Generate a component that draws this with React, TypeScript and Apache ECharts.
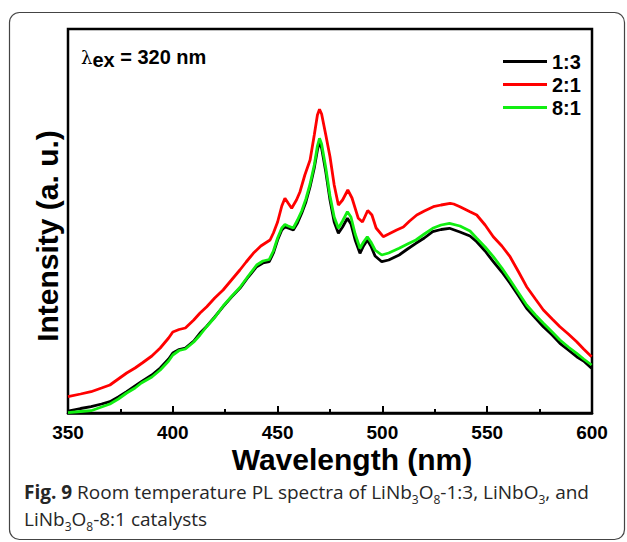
import React, { useEffect, useRef } from "react";
import * as echarts from "echarts";

// Wavelength samples (nm) shared by samples 1:3 and 8:1
const wl = [350,356,361,366,370,374,378,382,385,390,394,398,400,403,406,410,413,416,420,424,428,432,436,440,443,446,448,450,452,453.5,455,457.5,459.5,461.5,463.5,465.5,467.5,469,470,471,473,475,477,479,481,483.3,485,487,489.3,491,492.8,494.5,496.5,499.7,503,508,512,516,520,524,528,532,537,541.8,545,549,552.9,557,560.9,565,568.8,573,576.8,581,584.7,588.7,592.7,596,599.8];
// Intensity (a.u.) of LiNb3O8-1:3
const int13 = [2,4.5,6.3,9,11.3,16,21.3,27,31.3,38,45,54,60,63.5,65,72,80,86.3,96,106.3,116,124.7,136,146.3,150,151.3,160,173,183,186.3,185,183,190,199.7,211,226.3,245,263,271.3,265,241,213,191,179.7,186,194.7,189,173,159.7,167,173,167,157,151.3,153,158,164,169.7,175,181.3,183.5,184.7,181,177,171.3,162,151.3,141,129.7,117,104.7,95,86.3,78,69.7,63,56.3,52,44.7];
// Intensity (a.u.) of LiNb3O8-8:1
const int81 = [0.3,1.5,2.3,6,9,14,20,25,30,36,43,52,58,62.5,64,71,78,86,95.5,107,116.5,125.5,137,148,152,153.5,162,175,185,188.5,187,185,193,202,214,229,248,267,274.7,269,245,217,196,184.7,192,201.3,196,179,164.7,171,176.3,171,163,158,160,164.7,169,173,179,184.7,188,189.7,187,182,174.7,166,156.3,145,133,120,108,98,89.7,81,73,66,59.7,54,48];
// Wavelength samples and intensity of 2:1
const wl21 = [350,356,361,366,370,374,378,382,385.4,390,394,398,400,403,406,410,413,416.2,420,424,428,432,435,438.4,442,446.4,448,450,452,453.5,455,456.7,459,460.7,463,465.5,467.5,469,470,471,473,475,477,479,481,483.5,485.5,488.5,490.5,493,495,497,500.4,503,506.8,510,513,516.4,520,524.3,528,532.3,534,537,541.8,545,549,552.9,557,560.9,565,568.8,573,576.8,581,584.7,588.7,592.7,596,599.8];
const int21 = [16.3,19,21.3,25,28,34,40,45,50,57,65,75,81,83.5,85,93,100,106.3,115,123,133,143,151,159.7,167,173,180,191,207,214.7,210,204.7,213,221.3,238,253,278,298,303.7,299,278,256.3,228,208,213,223,215,194.7,191,202.5,198,185,176.3,179,183,186,192,198,202,206.3,208,209.7,209,206.3,201.3,198,188,176.3,167,156.3,141,126.3,114,103,94,86.3,79,71.3,64,56.3];

const seriesNames = ["1:3", "2:1", "8:1"];
const seriesColors = ["#000000", "#ff0000", "#11ee11"];
const xTicks = { min: 350, max: 600, interval: 50 };

const zip = (xs: number[], ys: number[]) => xs.map((x, i) => [x, ys[i]]);

const ARIAL = 'Arial, "Liberation Sans", Helvetica, sans-serif';
const CAP = '"Open Sans", "Noto Sans", sans-serif';

export default function App() {
  const ref = useRef<HTMLDivElement>(null);
  useEffect(() => {
    if (!ref.current) return;
    const chart = echarts.init(ref.current, null, { renderer: "svg" });
    const data = [zip(wl, int13), zip(wl21, int21), zip(wl, int81)];
    const capColor = "#262626";
    const capRich = {
      b: { fontFamily: CAP, fontSize: 19, fontWeight: "bold", fill: capColor, lineHeight: 26, verticalAlign: "middle" },
      n: { fontFamily: CAP, fontSize: 19, fill: capColor, lineHeight: 26, verticalAlign: "middle" },
      s: { fontFamily: CAP, fontSize: 12, fill: capColor, lineHeight: 14, verticalAlign: "bottom" },
    };
    chart.setOption({
      animation: false,
      backgroundColor: "#ffffff",
      grid: { left: 68, top: 29, width: 524, height: 384, show: true, borderColor: "#000", borderWidth: 2.5, backgroundColor: "transparent" },
      legend: {
        orient: "vertical",
        left: 498,
        top: 46,
        itemWidth: 44,
        itemHeight: 3,
        itemGap: 2,
        icon: "rect",
        data: seriesNames,
        textStyle: { fontFamily: ARIAL, fontWeight: "bold", fontSize: 20, color: "#000", lineHeight: 21 },
        itemTextGap: 5,
      },
      xAxis: {
        type: "value",
        min: xTicks.min,
        max: xTicks.max,
        interval: xTicks.interval,
        axisLine: { show: true, onZero: false, lineStyle: { color: "#000", width: 2.5 } },
        axisTick: { show: true, inside: true, length: 7, lineStyle: { color: "#000", width: 2 } },
        minorTick: { show: true, splitNumber: 2, length: 4, lineStyle: { color: "#000", width: 2 } },
        splitLine: { show: false },
        axisLabel: { margin: 10, fontFamily: ARIAL, fontWeight: "bold", fontSize: 19, color: "#000" },
      },
      yAxis: {
        type: "value",
        min: 0,
        max: 384,
        axisLine: { show: false },
        axisTick: { show: false },
        axisLabel: { show: false },
        splitLine: { show: false },
      },
      series: seriesNames.map((name, i) => ({
        name,
        type: "line",
        data: data[i],
        symbol: "none",
        showSymbol: false,
        color: seriesColors[i],
        lineStyle: { color: seriesColors[i], width: 2.8 },
        z: 2 + i,
      })),
      graphic: [
        {
          type: "rect",
          shape: { x: 9.5, y: 12.5, width: 615, height: 527, r: 10 },
          style: { fill: "none", stroke: "#444", lineWidth: 1.2 },
          z: -1,
          silent: true,
        },
        {
          type: "text",
          x: 81,
          y: 57,
          style: {
            text: "{l|λ}{e|ex}{n| = 320 nm}",
            align: "left",
            verticalAlign: "middle",
            rich: {
              l: { fontFamily: '"DejaVu Serif", serif', fontSize: 18, fill: "#000", lineHeight: 26, verticalAlign: "middle" },
              e: { fontFamily: ARIAL, fontWeight: "bold", fontSize: 20, fill: "#000", lineHeight: 14, verticalAlign: "bottom" },
              n: { fontFamily: ARIAL, fontWeight: "bold", fontSize: 20, fill: "#000", lineHeight: 26, verticalAlign: "middle" },
            },
          },
        },
        {
          type: "text",
          x: 47,
          y: 236,
          rotation: Math.PI / 2,
          style: { text: "Intensity (a. u.)", font: `bold 30px ${ARIAL}`, fill: "#000", align: "center", verticalAlign: "middle" },
        },
        {
          type: "text",
          x: 352,
          y: 459,
          style: { text: "Wavelength (nm)", font: `bold 30px ${ARIAL}`, fill: "#000", align: "center", verticalAlign: "middle" },
        },
        {
          type: "text",
          x: 24,
          y: 492,
          style: {
            text: "{b|Fig. 9}{n| Room temperature PL spectra of LiNb}{s|3}{n|O}{s|8}{n|-1:3, LiNbO}{s|3}{n|, and}",
            align: "left",
            verticalAlign: "middle",
            rich: capRich,
          },
        },
        {
          type: "text",
          x: 24,
          y: 519,
          style: {
            text: "{n|LiNb}{s|3}{n|O}{s|8}{n|-8:1 catalysts}",
            align: "left",
            verticalAlign: "middle",
            rich: capRich,
          },
        },
      ],
    });
    return () => chart.dispose();
  }, []);
  return <div ref={ref} style={{ position: "fixed", left: 0, top: 0, width: 627, height: 542, background: "#fff" }} />;
}
